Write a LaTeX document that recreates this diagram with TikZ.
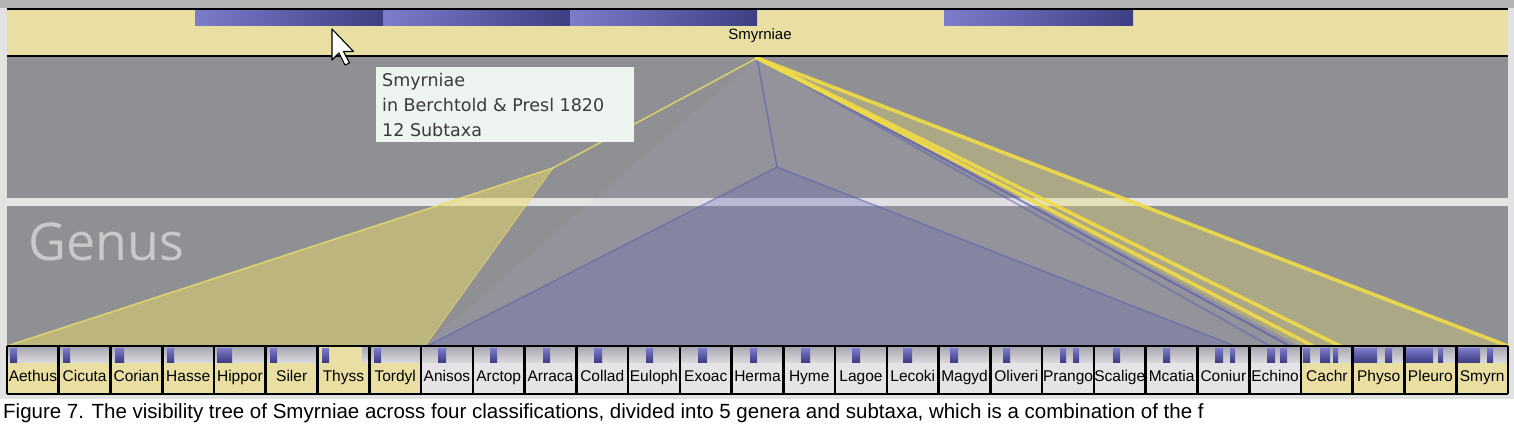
\documentclass[tikz,border=0pt]{standalone}
\usepackage{fontspec}
\setmainfont{Liberation Sans}
\newfontfamily\tipfont{DejaVu Sans}
\newfontfamily\genusfont{Open Sans}
\definecolor{canvasgray}{HTML}{8F9093}
\definecolor{topstrip}{HTML}{B2B3B4}
\definecolor{margin}{HTML}{E2E2E2}
\definecolor{khaki}{HTML}{E9DFA2}
\definecolor{boxgray}{HTML}{E4E4E6}
\definecolor{tipbg}{HTML}{EEF5F0}
\definecolor{fanyellow}{HTML}{EADC6A}
\definecolor{lineyellow}{HTML}{F0DC48}
\definecolor{lavender}{HTML}{BCBCE4}
\definecolor{purplefill}{HTML}{6464B0}
\definecolor{edgeblue}{HTML}{5C5CB4}
\definecolor{barlight}{HTML}{7C7CCC}
\definecolor{bardark}{HTML}{3E3E84}
\definecolor{striptop}{HTML}{A8A8B2}
\definecolor{stripbot}{HTML}{D8D8DC}
\definecolor{genuscol}{HTML}{C9C9CB}
\definecolor{tiptext}{HTML}{3A3A3A}
\definecolor{bandwhite}{HTML}{E4E4E4}
\tikzset{
  boxlabel/.style={font=\fontsize{15.5}{15.5}\selectfont, inner sep=0pt, text=black},
  tipline/.style={font=\tipfont\fontsize{17.5}{17.5}\selectfont, text=tiptext, inner sep=0pt, anchor=base west},
  sepline/.style={line width=2.6pt, black},
  yline/.style={line width=3.6pt, lineyellow, opacity=0.9, line cap=round},
  bline/.style={line width=2pt, edgeblue, opacity=0.7},
  topbar/.style={left color=barlight, right color=bardark},
  smallbar/.style={top color=barlight, bottom color=bardark},
}
\begin{document}
\begin{tikzpicture}[x=1pt,y=-1pt]
\useasboundingbox (0,0) rectangle (1514,424);
% backgrounds
\fill[white] (0,0) rectangle (1514,424);
\fill[margin] (0,0) rectangle (1514,399);
\fill[topstrip] (0,0) rectangle (1514,8);
\fill[canvasgray] (7,57) rectangle (1508,346);
\fill[bandwhite] (7,198) rectangle (1508,206);
% genus label
\node[anchor=base west, inner sep=0pt, text=genuscol, font=\genusfont\fontsize{52}{52}\selectfont] (genus) at (28,260) {Genus};
% key points
\coordinate (A) at (757,58);
\coordinate (Y) at (553,168);
\coordinate (P) at (777,167);
\coordinate (bL) at (7,346);
\coordinate (bY) at (425,346);
\coordinate (bP) at (427,346);
\coordinate (bQ) at (1235,346);
\coordinate (bF) at (1300,346);
\coordinate (bR) at (1508,346);
\coordinate (y2) at (1340,346);
\coordinate (y3) at (1313,346);
\coordinate (b1) at (1290,346);
\coordinate (b2) at (1270,346);
% fans
\fill[lavender, opacity=0.1] (A) -- (bY) -- (bF) -- cycle;
\fill[purplefill, opacity=0.3] (P) -- (bP) -- (bQ) -- cycle;
\fill[fanyellow, opacity=0.5] (Y) -- (bL) -- (bY) -- cycle;
\fill[fanyellow, opacity=0.32] (A) -- (bF) -- (bR) -- cycle;
% edges
\draw[line width=1.6pt, fanyellow, opacity=0.8] (A) -- (Y) -- (bL);
\draw[line width=1pt, fanyellow, opacity=0.6] (Y) -- (bY);
\draw[line width=1.5pt, edgeblue, opacity=0.6] (A) -- (P);
\draw[line width=1.4pt, edgeblue, opacity=0.55] (bP) -- (P) -- (bQ);
\draw[bline] (A) -- (b1);
\draw[bline, opacity=0.45] (A) -- (b2);
\draw[yline] (A) -- (y3);
\draw[yline] (A) -- (y2);
\draw[yline] (A) -- (bR);
% top band
\node[fill=khaki, minimum width=1501pt, minimum height=47pt, inner sep=0pt, anchor=north west] (band) at (7,9) {};
\fill[topbar] (195,9) rectangle (383,25);
\fill[topbar] (383,9) rectangle (570,25);
\fill[topbar] (570,9) rectangle (757,25);
\fill[topbar] (944,9) rectangle (1133,25);
\draw[line width=2pt] (band.north west) -- (band.north east);
\draw[line width=2pt] (band.south west) -- (band.south east);
\node[anchor=base, inner sep=0pt, font=\fontsize{15}{15}\selectfont] (smy) at (760,39) {Smyrniae};
% tooltip
\node[fill=tipbg, minimum width=258pt, minimum height=75pt, inner sep=0pt, anchor=north west] (tip) at (376,67) {};
\node[tipline] (tip1) at (382,86.7) {Smyrniae};
\node[tipline] (tip2) at (382,111.5) {in Berchtold \& Presl 1820};
\node[tipline] (tip3) at (382,136.3) {12 Subtaxa};
% genus boxes
\foreach \nm [count=\i] in {Aethus,Cicuta,Corian,Hasse,Hippor,Siler,Thyss,Tordyl,Anisos,Arctop,Arraca,Collad,Euloph,Exoac,Herma,Hyme,Lagoe,Lecoki,Magyd,Oliveri,Prango,Scalige,Mcatia,Coniur,Echino,Cachr,Physo,Pleuro,Smyrn}{
  \pgfmathsetmacro\xa{7+(\i-1)*51.7586}
  \pgfmathsetmacro\xb{\xa+51.7586}
  \pgfmathsetmacro\xc{\xa+25.88}
  \ifnum\i<9 \def\bc{khaki}\else\ifnum\i>25 \def\bc{khaki}\else\def\bc{boxgray}\fi\fi
  \fill[\bc] (\xa,346) rectangle (\xb,394);
  \ifnum\i=7
    \fill[top color=striptop, bottom color=stripbot] (362,347) rectangle (368,362);
  \else
    \fill[top color=striptop, bottom color=stripbot] (\xa,347) rectangle (\xb,362);
  \fi
  \begin{scope}
    \clip (\xa,346) rectangle (\xb,394);
    \node[boxlabel, anchor=base] (g\i) at (\xc,381) {\nm};
  \end{scope}
}
\foreach \a/\b in {10/17,63/70,115/124,167/174,217/232,270/277,322/329,374/381,438/446,490/497,543/550,594/602,646/653,698/707,750/757,801/810,852/860,903/912,950/958,1003/1010,1060/1066,1073/1079,1113/1120,1163/1170,1215/1223,1230/1235,1267/1275,1280/1287,1303/1310,1320/1330,1333/1338,1353/1377,1385/1392,1405/1433,1438/1443,1458/1480,1487/1493}{
  \fill[smallbar] (\a,348) rectangle (\b,362);
}
\foreach \k in {0,...,29}{
  \draw[sepline] ({7+\k*51.7586},346) -- ({7+\k*51.7586},394);
}
\draw[line width=2pt] (7,346) -- (1508,346);
\draw[line width=2pt] (7,394) -- (1508,394);
% cursor
\draw[fill=white, line width=1.1pt, line join=round] (332,29) -- ++(0,31) -- ++(7,-7) -- ++(6,12) -- ++(4.5,-2) -- ++(-6,-11.5) -- ++(10,0) -- cycle;
% caption
\node[anchor=base west, inner sep=0pt, font=\fontsize{20.5}{20.5}\selectfont] (cap) at (3,418.5) {Figure 7. The visibility tree of Smyrniae across four classifications, divided into 5 genera and subtaxa, which is a combination of the f};
\end{tikzpicture}
\end{document}
